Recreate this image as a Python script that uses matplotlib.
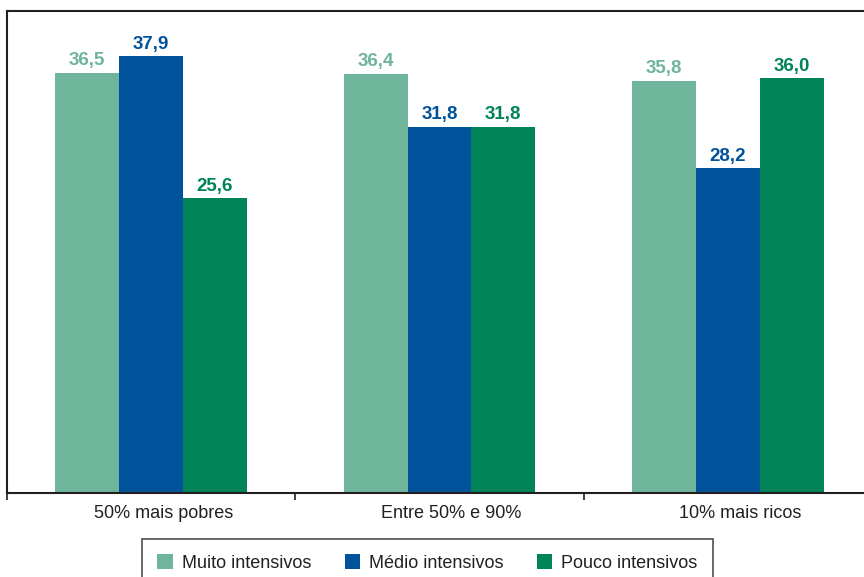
import matplotlib
matplotlib.use("Agg")
import matplotlib.pyplot as plt
import matplotlib.transforms as mtransforms
import numpy as np

categories = ["50% mais pobres", "Entre 50% e 90%", "10% mais ricos"]
series_names = ["Muito intensivos", "Médio intensivos", "Pouco intensivos"]
muito = [36.5, 36.4, 35.8]
medio = [37.9, 31.8, 28.2]
pouco = [25.6, 31.8, 36.0]
colors = ["#6FB59B", "#00529B", "#008457"]

plt.rcParams['font.family'] = ['Liberation Sans', 'DejaVu Sans']

fig = plt.figure(figsize=(8.64, 5.77), dpi=100)
W, H = 864, 577
ax = fig.add_axes([7 / W, (H - 493) / H, 865 / W, 482 / H])

x = np.arange(len(categories))
bw = 0.2215
for i, (vals, name, c) in enumerate(zip([muito, medio, pouco], series_names, colors)):
    pos = x + (i - 1) * bw
    bars = ax.bar(pos, vals, width=bw, color=c, label=name, linewidth=0)
    for p, v in zip(pos, vals):
        ax.annotate(f"{v:.1f}".replace(".", ","), (p, v), xytext=(0, 2.5),
                    textcoords="offset points", ha="center", va="bottom",
                    fontsize=13.5, fontweight="bold", color=c)

ax.set_xlim(-0.5, 2.5)
ax.set_ylim(0, 41.85)
ax.set_yticks([])
ax.set_xticks(x)
ax.set_xticklabels(categories, fontsize=13, color="#231F20")
ax.tick_params(axis="x", which="major", length=0, pad=9)
shift = mtransforms.ScaledTranslation(12 / 100, 0, fig.dpi_scale_trans)
for lbl in ax.get_xticklabels():
    lbl.set_transform(lbl.get_transform() + shift)
ax.set_xticks([-0.5, 0.5, 1.5, 2.5], minor=True)
ax.tick_params(axis="x", which="minor", length=5, width=1.2, color="#231F20", direction="out")
for s in ax.spines.values():
    s.set_color("#231F20")
    s.set_linewidth(1.5)

leg = fig.legend(loc="upper left", bbox_to_anchor=(142 / W, 38 / H), ncol=3,
                 fontsize=13, frameon=True, fancybox=False, edgecolor="#231F20",
                 handlelength=0.85, handleheight=0.85, handletextpad=0.5,
                 columnspacing=1.85, borderpad=0.85, borderaxespad=0)
leg.get_frame().set_linewidth(1.2)
for t in leg.get_texts():
    t.set_color("#231F20")

fig.savefig("out.png", dpi=100)
